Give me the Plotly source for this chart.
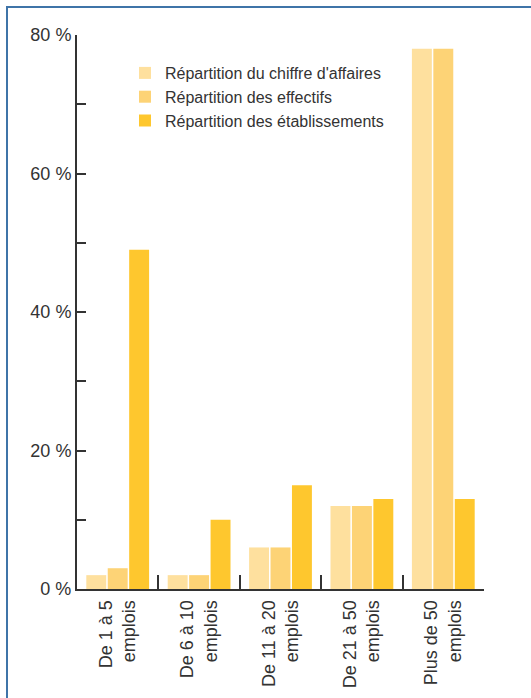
import plotly.graph_objects as go

categories = ["De 1 à 5<br>emplois", "De 6 à 10<br>emplois", "De 11 à 20<br>emplois",
              "De 21 à 50<br>emplois", "Plus de 50<br>emplois"]
chiffre_affaires = [2, 2, 6, 12, 78]
effectifs = [3, 2, 6, 12, 78]
etablissements = [49, 10, 15, 13, 13]
series_names = ["Répartition du chiffre d'affaires", "Répartition des effectifs",
                "Répartition des établissements"]
series_colors = ["#FEE09E", "#FDD376", "#FEC72E"]
y_tickvals = [0, 10, 20, 30, 40, 50, 60, 70, 80]
y_ticktext = ["0 %", "", "20 %", "", "40 %", "", "60 %", "", "80 %"]

W, H = 531, 698
PL, PR, PT, PB = 77, 484, 35, 589  # plot area in page pixels
L, T = PL, PT
pw, ph = PR - PL, PB - PT
R = W - L - pw
B = H - T - ph

fig = go.Figure()
for name, vals, col in zip(series_names, [chiffre_affaires, effectifs, etablissements], series_colors):
    fig.add_trace(go.Bar(x=categories, y=vals, name=name, marker=dict(color=col, line=dict(width=0))))

def px_x(p):
    return (p - PL) / pw

def px_y(p):
    return (PB - p) / ph

fig.update_layout(
    width=W, height=H,
    margin=dict(l=L, r=R, t=T, b=B, autoexpand=False),
    paper_bgcolor="white", plot_bgcolor="white",
    barmode="group", bargap=0.21, bargroupgap=0.07,
    font=dict(family="Liberation Sans, Arial, sans-serif", color="#333333", size=18),
    showlegend=True,
    legend=dict(x=px_x(125), y=px_y(56), xanchor="left", yanchor="top",
                font=dict(size=16, color="#333333"), bgcolor="rgba(0,0,0,0)",
                tracegroupgap=0, itemwidth=30),
    xaxis=dict(type="category", range=[-0.5, 4.5], showline=True, linecolor="#333333", linewidth=2,
               ticks="inside", ticklen=14, tickwidth=2, tickcolor="#333333", tickson="boundaries",
               tickangle=-90, showgrid=False, zeroline=False, tickfont=dict(size=18),
               ticklabelstandoff=2, automargin=False),
    yaxis=dict(range=[0, 80], showline=True, linecolor="#333333", linewidth=2,
               ticks="inside", ticklen=9, tickwidth=1.5, tickcolor="#333333",
               tickvals=y_tickvals, ticktext=y_ticktext, showgrid=False, zeroline=False,
               tickfont=dict(size=18), automargin=False),
    shapes=[dict(type="rect", xref="paper", yref="paper",
                 x0=px_x(7), x1=px_x(560), y0=px_y(740), y1=px_y(7),
                 line=dict(color="#3F74A8", width=2), fillcolor="rgba(0,0,0,0)", layer="below")],
)

fig.write_html("out.html", config={"displayModeBar": False},
               post_script="document.body.style.margin='0';document.body.style.overflow='hidden';")
